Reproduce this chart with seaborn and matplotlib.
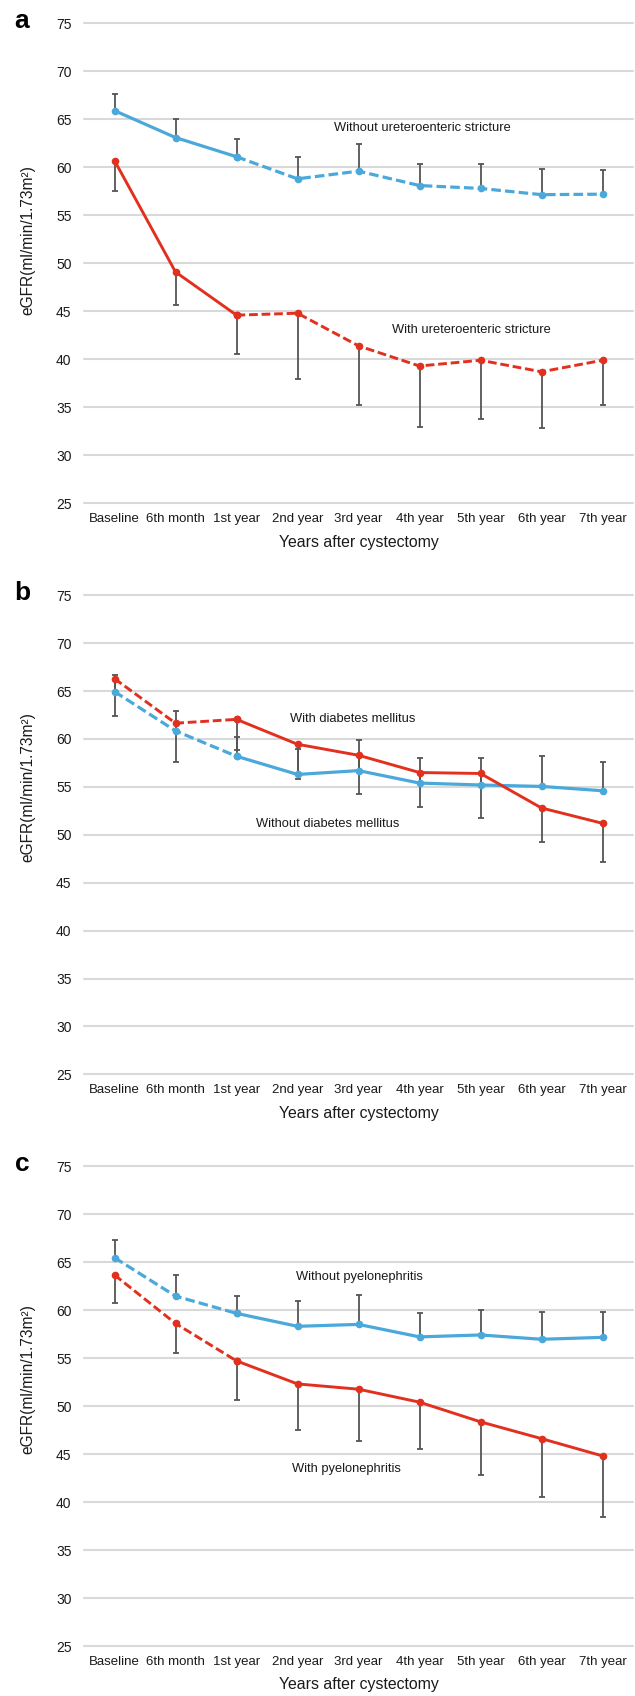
import numpy as np
import pandas as pd
import seaborn as sns
import matplotlib.pyplot as plt

timepoints = ['Baseline', '6th month', '1st year', '2nd year', '3rd year',
              '4th year', '5th year', '6th year', '7th year']

# a: ureteroenteric stricture
a_without = [65.9, 63.1, 61.1, 58.8, 59.6, 58.1, 57.8, 57.15, 57.2]
a_without_hi = [67.6, 65.0, 62.9, 61.1, 62.4, 60.3, 60.3, 59.85, 59.7]
a_with = [60.7, 49.1, 44.6, 44.8, 41.4, 39.3, 39.9, 38.7, 39.9]
a_with_lo = [57.55, 45.7, 40.6, 37.9, 35.2, 32.9, 33.8, 32.85, 35.2]

# b: diabetes mellitus
b_without = [64.95, 60.85, 58.2, 56.3, 56.7, 55.4, 55.2, 55.05, 54.6]
b_without_hi = [66.7, 62.95, 60.2, 59.0, 59.85, 58.0, 58.0, 58.25, 57.6]
b_with = [66.3, 61.65, 62.05, 59.45, 58.3, 56.5, 56.4, 52.8, 51.2]
b_with_lo = [62.45, 57.6, 58.8, 55.8, 54.3, 52.85, 51.8, 49.25, 47.2]

# c: pyelonephritis
c_without = [65.45, 61.45, 59.65, 58.3, 58.5, 57.2, 57.4, 56.95, 57.15]
c_without_hi = [67.25, 63.6, 61.5, 60.9, 61.6, 59.7, 60.0, 59.75, 59.75]
c_with = [63.65, 58.6, 54.7, 52.3, 51.75, 50.4, 48.35, 46.6, 44.8]
c_with_lo = [60.7, 55.5, 50.65, 47.55, 46.4, 45.55, 42.85, 40.5, 38.45]

sns.set_theme(style="white")
plt.rcParams['font.family'] = ['Liberation Sans', 'DejaVu Sans']

BLUE = '#4aa9da'
RED = '#e2301f'
GREY = '#555555'
TXT = '#1a1a1a'
x = np.arange(len(timepoints))
brk = 2  # index where line style changes


def draw_series(ax, vals, color, lw, dashed_first):
    df = pd.DataFrame({'x': x, 'y': vals})
    first, second = df.iloc[:brk + 1], df.iloc[brk:]
    dash = (0, (3, 1.3))
    styles = [dash, '-'] if dashed_first else ['-', dash]
    for part, ls in zip([first, second], styles):
        sns.lineplot(data=part, x='x', y='y', ax=ax, color=color, lw=lw,
                     linestyle=ls, marker='o', markersize=5.5,
                     markeredgewidth=0, zorder=4)


def draw_err(ax, vals, ends):
    ax.vlines(x, vals, ends, color=GREY, lw=1.3, zorder=2)
    ax.plot(x, ends, ls='none', marker='_', ms=5, mew=1.3, color=GREY, zorder=2)


def draw_panel(ax, letter, without, without_hi, with_, with_lo, dashed_first,
               notes, ylab_y):
    draw_err(ax, without, without_hi)
    draw_err(ax, with_, with_lo)
    draw_series(ax, without, BLUE, 2.3, dashed_first)
    draw_series(ax, with_, RED, 2.1, dashed_first)
    for txt, nx, ny in notes:
        ax.text(nx, ny, txt, ha='center', va='center', fontsize=9.3, color=TXT)
    ax.set_xlim(-0.5, 8.5)
    ax.set_ylim(25, 75)
    ax.set_yticks(range(25, 80, 5))
    ax.set_xticks(x)
    ax.set_xticklabels(timepoints)
    ax.grid(axis='y', color='#d9d9d9', lw=1.5)
    ax.grid(axis='x', visible=False)
    for gl in ax.get_ygridlines():
        gl.set_clip_on(False)
    ax.set_axisbelow(True)
    sns.despine(ax=ax, left=True, bottom=True)
    ax.tick_params(axis='both', length=0, labelsize=9.5, colors=TXT)
    ax.tick_params(axis='y', pad=9, labelsize=10)
    ax.tick_params(axis='x', pad=7)
    ax.set_xlabel('Years after cystectomy', fontsize=11.4, color=TXT, labelpad=7)
    ax.set_ylabel('eGFR(ml/min/1.73m²)', fontsize=11.2, color=TXT)
    ax.yaxis.set_label_coords(-0.089, ylab_y)
    ax.text(-0.113, 1.005, letter, transform=ax.transAxes, fontsize=19,
            fontweight='bold', ha='center', va='center', color='black')


fig = plt.figure(figsize=(6.35, 16.96), dpi=100)
left, width = 84 / 635, 549 / 635
ax_a = fig.add_axes([left, 1 - 503.3 / 1696, width, 480 / 1696])
ax_b = fig.add_axes([left, 1 - 1074.3 / 1696, width, 479 / 1696])
ax_c = fig.add_axes([left, 1 - 1646 / 1696, width, 480 / 1696])

draw_panel(ax_a, 'a', a_without, a_without_hi, a_with, a_with_lo, False,
           [('Without ureteroenteric stricture', 5.04, 64.06),
            ('With ureteroenteric stricture', 5.85, 43.1)], 0.548)
draw_panel(ax_b, 'b', b_without, b_without_hi, b_with, b_with_lo, True,
           [('With diabetes mellitus', 3.91, 62.06),
            ('Without diabetes mellitus', 3.50, 51.1)], 0.599)
draw_panel(ax_c, 'c', c_without, c_without_hi, c_with, c_with_lo, True,
           [('Without pyelonephritis', 4.02, 63.47),
            ('With pyelonephritis', 3.81, 43.4)], 0.556)

fig.savefig('out.png', dpi=100)
